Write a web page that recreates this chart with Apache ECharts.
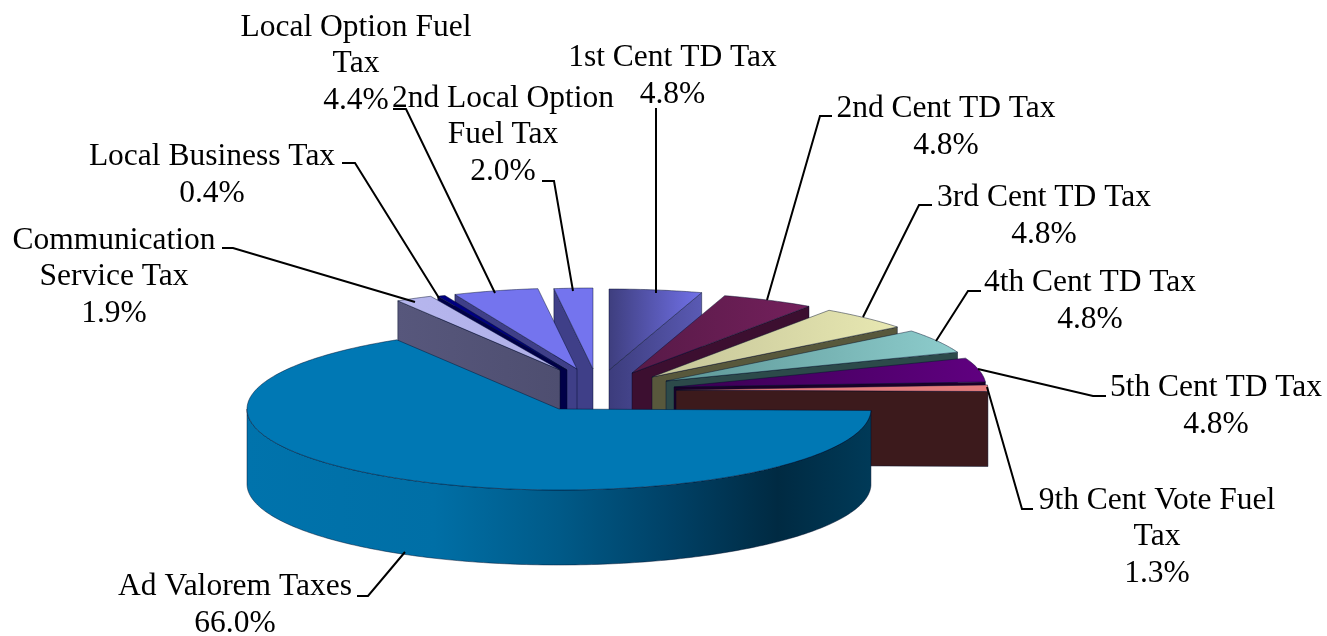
<!DOCTYPE html>
<html>
<head>
<meta charset="utf-8">
<style>html,body{margin:0;padding:0;background:#fff}#c{width:1327px;height:636px}</style>
<script src="https://cdn.jsdelivr.net/npm/echarts@6/dist/echarts.min.js"></script>
</head>
<body>
<div id="c"></div>
<script>
// ---- data: clockwise from 12 o'clock ----
const categories = ['1st Cent TD Tax','2nd Cent TD Tax','3rd Cent TD Tax','4th Cent TD Tax','5th Cent TD Tax',
  '9th Cent Vote Fuel\nTax','Ad Valorem Taxes','Communication\nService Tax','Local Business Tax',
  'Local Option Fuel\nTax','2nd Local Option\nFuel Tax'];
const shares = [4.8,4.8,4.8,4.8,4.8,1.3,66.0,1.9,0.4,4.4,2.0];

// ---- look: explosion, paint order, colours ----
const PIE = {cx:559, cy:409, rx:312, ry:81, depth:75};
const shiftX = [50,73,93,107,115,117,0,1,8,18,34];
const shiftY = [-39,-36,-32,-28,-22,-19,0,-39,-39,-40,-40];
const paintOrder = [1,2,3,4,5,6,10,4,3,2,1];
const topColors = [['#3e3e7e','#7272ea'],['#571a47','#74205c'],['#c4c498','#e8e8b2'],['#5c9696','#8ecdcd'],
  ['#3a0052','#600080'],['#e47c7c','#e47c7c'],['#0078b4','#0078b4'],['#b6b6ee','#b0b0e8'],
  ['#000080','#000080'],['#7474ee','#7474ee'],['#7474ee','#7474ee']];
const cutColors = [['#3c3c7c','#5a5ab4'],['#3c0f30','#3c0f30'],['#58583c','#58583c'],['#2c4a4a','#2c4a4a'],
  ['#1c0028','#1c0028'],['#3c1a1c','#3c1a1c'],['#003a58','#003a58'],['#57577c','#4e4e70'],
  ['#000048','#000048'],['#3f3f88','#3f3f88'],['#3f3f88','#3f3f88']];
const labelAt = [[672.5,76],[946,127],[1044,216],[1090,301],[1216,406],[1157,537],[235,605],[114,277],[212,175],[356,64],[503,135]];
const leaders = [
  [[656,108],[656,293]],
  [[832,116],[820,116],[767,300]],
  [[932,205],[919,205],[863,317]],
  [[981,291],[968,291],[936,341]],
  [[1106,396],[1093,396],[978,369]],
  [[1033,509],[1022,509],[987,387]],
  [[357,596],[368,596],[405,552]],
  [[222,248],[233,248],[415,302]],
  [[342,163],[355,163],[439,298]],
  [[393,109],[406,109],[495,293]],
  [[542,181],[554,181],[573,291]]
];

const total = shares.reduce((a,b)=>a+b,0);
const Grad = (c0,c1)=> new echarts.graphic.LinearGradient(0,0,1,0,[{offset:0,color:c0},{offset:1,color:c1}]);
const adSide = new echarts.graphic.LinearGradient(0,0,1,0,[
  {offset:0,color:'#0073ac'},{offset:.3,color:'#006fa6'},{offset:.5,color:'#005a88'},
  {offset:.68,color:'#004166'},{offset:.85,color:'#002a42'},{offset:1,color:'#003a58'}]);
const EDGE = 'rgba(0,10,40,0.45)';

function renderSlice(params, api){
  const i = params.dataIndex;
  const v = api.value(0);
  let before = 0;
  for (let k=0;k<i;k++) before += shares[k];
  const a0 = before/total*360, a1 = (before+v)/total*360;
  const ax = PIE.cx+shiftX[i], ay = PIE.cy+shiftY[i];
  const pt = (deg,dy)=>{const r=deg*Math.PI/180;return [ax+PIE.rx*Math.sin(r), ay-PIE.ry*Math.cos(r)+(dy||0)];};
  const arc = (s,e,dy)=>{const out=[];const n=Math.max(2,Math.ceil((e-s)));for(let k=0;k<=n;k++)out.push(pt(s+(e-s)*k/n,dy));return out;};
  const base = paintOrder[i]*10;
  const kids = [];
  const poly = (points,fill,z)=>kids.push({type:'polygon',z2:z,shape:{points},style:{fill,stroke:EDGE,lineWidth:1}});

  // cut face of the starting edge (visible on the left half)
  if (a0>180 && a0<360) {
    const p=pt(a0);
    poly([p,[ax,ay],[ax,ay+PIE.depth],[p[0],p[1]+PIE.depth]],Grad(cutColors[i][0],cutColors[i][1]),base);
  }
  // cut face of the ending edge (visible on the right half)
  if (a1>0 && a1<180) {
    const p=pt(a1);
    poly([[ax,ay],p,[p[0],p[1]+PIE.depth],[ax,ay+PIE.depth]],Grad(cutColors[i][0],cutColors[i][1]),base);
  }
  // curved outer wall (visible where the rim faces the viewer)
  const s=Math.max(a0,90), e=Math.min(a1,270);
  if (e>s+2) {
    poly(arc(s,e,0).concat(arc(s,e,PIE.depth).reverse()),adSide,base+1);
  }
  // top face
  poly([[ax,ay]].concat(arc(a0,a1,0)),Grad(topColors[i][0],topColors[i][1]),base+2);

  // leader + label
  kids.push({type:'polyline',z2:200,shape:{points:leaders[i]},style:{stroke:'#000',lineWidth:2,fill:null}});
  kids.push({type:'text',z2:300,style:{
    x:labelAt[i][0],y:labelAt[i][1],
    text:categories[i]+'\n'+v.toFixed(1)+'%',
    font:'31.5px "Liberation Serif"',lineHeight:36.7,fill:'#000',
    textAlign:'center',textVerticalAlign:'middle'}});
  return {type:'group',children:kids};
}

const chart = echarts.init(document.getElementById('c'),null,{renderer:'canvas'});
chart.setOption({
  animation:false,
  backgroundColor:'#fff',
  series:[{
    type:'custom',
    coordinateSystem:'none',
    silent:true,
    renderItem:renderSlice,
    data:shares.map(v=>[v])
  }]
});
</script>
</body>
</html>
